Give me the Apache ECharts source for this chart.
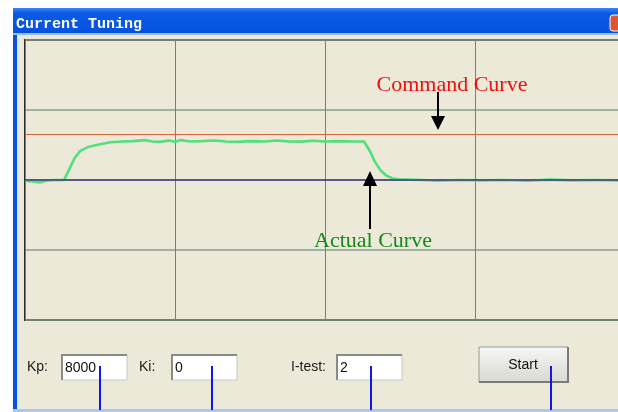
<!DOCTYPE html>
<html>
<head>
<meta charset="utf-8">
<title>Current Tuning</title>
<script src="https://cdn.jsdelivr.net/npm/echarts@6/dist/echarts.min.js"></script>
<style>
  html, body { margin: 0; padding: 0; background: #fff; }
  #chart { width: 618px; height: 412px; }
</style>
</head>
<body>
<div id="chart"></div>
<script>
// sample index on x, current on y
const sampleX = [0, 5, 10, 14, 20, 26, 29, 33, 37, 42, 50, 57, 65, 72, 80, 85, 90, 96, 100, 104,
  110, 118, 126, 134, 142, 150, 160, 168, 176, 184, 192, 200, 210, 218, 226, 230, 233, 237, 241, 245,
  249, 256, 265, 275, 290, 305, 320, 335, 350, 365, 380, 395, 400];
const actualY = [-0.01, -0.02, -0.035, -0.01, 0, 0, 0.13, 0.31, 0.42, 0.47, 0.51, 0.54, 0.55, 0.555, 0.57, 0.55, 0.545, 0.565, 0.545, 0.57,
  0.55, 0.555, 0.565, 0.55, 0.545, 0.555, 0.55, 0.565, 0.55, 0.548, 0.56, 0.55, 0.555, 0.55, 0.55, 0.41, 0.27, 0.14, 0.06, 0.025,
  0.01, 0.005, 0, -0.01, 0, -0.005, 0, -0.01, 0.005, -0.005, 0, -0.005, 0];
const commandX = [0, 400];
const commandY = [0.65, 0.65];
const baseY = [0, 0];

const fieldLabels = ['Kp:', 'Ki:', 'I-test:'];
const fieldValues = ['8000', '0', '2'];
const buttonLabel = 'Start';

const pairs = (xs, ys) => xs.map((x, i) => [x, ys[i]]);

const chart = echarts.init(document.getElementById('chart'), null, { renderer: 'canvas' });

const uiFont = '"Liberation Sans", Arial, sans-serif';
const noteFont = '"Liberation Serif", "Times New Roman", serif';

const labelPos = [27, 139, 291];
const boxPos = [62, 172, 337];
const pointerX = [100, 212, 371, 551];

const graphics = [
  // window chrome
  { type: 'rect', shape: { x: 0, y: 0, width: 618, height: 8 }, style: { fill: '#fff' } },
  { type: 'rect', shape: { x: 0, y: 0, width: 13, height: 412 }, style: { fill: '#fff' } },
  { type: 'rect', shape: { x: 13, y: 8, width: 4, height: 404 }, style: { fill: '#0a50dc' } },
  { type: 'rect', shape: { x: 17, y: 34, width: 2, height: 375 }, style: { fill: '#dce6f4' } },
  {
    type: 'rect', shape: { x: 13, y: 8, width: 605, height: 26 },
    style: {
      fill: new echarts.graphic.LinearGradient(0, 0, 0, 1, [
        { offset: 0, color: '#3d85f5' },
        { offset: 0.2, color: '#0a5ae8' },
        { offset: 1, color: '#0552dc' }
      ])
    }
  },
  { type: 'rect', shape: { x: 13, y: 33, width: 605, height: 2 }, style: { fill: '#9dbbea' } },
  {
    type: 'text', x: 16, y: 24,
    style: { text: 'Current Tuning', fill: '#fff', font: 'bold 15px "Liberation Mono", "DejaVu Sans Mono", monospace', textVerticalAlign: 'middle' }
  },
  { type: 'rect', shape: { x: 610, y: 15, width: 16, height: 16, r: 3 }, style: { fill: '#dd5634', stroke: '#fff', lineWidth: 1 } },
  { type: 'rect', shape: { x: 13, y: 409, width: 605, height: 3 }, style: { fill: '#a9c7f0' } }
];

fieldLabels.forEach((lab, i) => {
  graphics.push({
    type: 'text', x: labelPos[i], y: 367,
    style: { text: lab, fill: '#1a1a1a', font: '14px ' + uiFont, textVerticalAlign: 'middle' }
  });
  const bx = boxPos[i];
  graphics.push({ type: 'rect', shape: { x: bx, y: 355, width: 65, height: 25 }, style: { fill: '#fff', stroke: '#c8c8c0', lineWidth: 1 } });
  graphics.push({ type: 'polyline', shape: { points: [[bx, 380], [bx, 355], [bx + 65, 355]] }, style: { stroke: '#8a8a86', lineWidth: 2, fill: null } });
  graphics.push({
    type: 'text', x: bx + 3, y: 368,
    style: { text: fieldValues[i], fill: '#111', font: '14px ' + uiFont, textVerticalAlign: 'middle' }
  });
});

graphics.push({
  type: 'rect', shape: { x: 479, y: 347, width: 89, height: 35 },
  style: {
    fill: new echarts.graphic.LinearGradient(0, 0, 0, 1, [
      { offset: 0, color: '#f6f6f4' },
      { offset: 1, color: '#d9d9d2' }
    ]),
    stroke: '#9a9a94', lineWidth: 1
  }
});
graphics.push({ type: 'polyline', shape: { points: [[479, 382], [568, 382], [568, 347]] }, style: { stroke: '#7a7a76', lineWidth: 2, fill: null } });
graphics.push({
  type: 'text', x: 523, y: 365,
  style: { text: buttonLabel, fill: '#111', font: '14px ' + uiFont, textAlign: 'center', textVerticalAlign: 'middle' }
});

pointerX.forEach((px) => {
  graphics.push({ type: 'line', z: 50, shape: { x1: px, y1: 366, x2: px, y2: 410 }, style: { stroke: '#1414f0', lineWidth: 2 } });
});

// callouts
graphics.push(
  { type: 'text', z: 100, x: 452, y: 85, style: { text: 'Command Curve', fill: '#f20d0d', font: '22px ' + noteFont, textAlign: 'center', textVerticalAlign: 'middle' } },
  { type: 'line', z: 100, shape: { x1: 438, y1: 92, x2: 438, y2: 118 }, style: { stroke: '#000', lineWidth: 2 } },
  { type: 'polygon', z: 100, shape: { points: [[431, 116], [445, 116], [438, 130]] }, style: { fill: '#000' } },
  { type: 'text', z: 100, x: 373, y: 241, style: { text: 'Actual Curve', fill: '#13891a', font: '22px ' + noteFont, textAlign: 'center', textVerticalAlign: 'middle' } },
  { type: 'line', z: 100, shape: { x1: 370, y1: 184, x2: 370, y2: 229 }, style: { stroke: '#000', lineWidth: 2 } },
  { type: 'polygon', z: 100, shape: { points: [[363, 186], [377, 186], [370, 171]] }, style: { fill: '#000' } }
);

chart.setOption({
  backgroundColor: '#ece9d8',
  animation: false,
  grid: {
    left: 25, top: 40, width: 600, height: 280,
    outerBoundsMode: 'none',
    show: true, borderColor: '#2b2b2b', borderWidth: 2, backgroundColor: 'transparent'
  },
  xAxis: {
    type: 'value', min: 0, max: 400, interval: 100,
    axisLine: { show: false }, axisTick: { show: false }, axisLabel: { show: false },
    splitLine: { show: true, lineStyle: { color: '#7c7c78', width: 1 } }
  },
  yAxis: {
    type: 'value', min: -2, max: 2, interval: 1,
    axisLine: { show: false }, axisTick: { show: false }, axisLabel: { show: false },
    splitLine: { show: true, lineStyle: { color: '#8d9d8d', width: 1.5 } }
  },
  series: [
    {
      name: 'Command Curve', type: 'line', symbol: 'none', z: 2,
      lineStyle: { color: '#d8643e', width: 1.2 },
      data: pairs(commandX, commandY)
    },
    {
      name: 'Actual Curve', type: 'line', symbol: 'none', z: 3,
      lineStyle: { color: '#52e07e', width: 2.6 },
      data: pairs(sampleX, actualY)
    },
    {
      name: 'Zero', type: 'line', symbol: 'none', z: 4,
      lineStyle: { color: '#3e3a7c', width: 1.4 },
      data: pairs(commandX, baseY)
    }
  ],
  graphic: { elements: graphics }
});
</script>
</body>
</html>
